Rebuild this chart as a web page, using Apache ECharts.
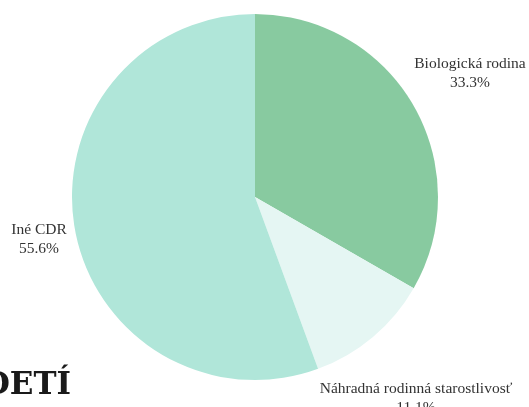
<!DOCTYPE html>
<html><head><meta charset="utf-8">
<script src="https://cdn.jsdelivr.net/npm/echarts@6/dist/echarts.min.js"></script>
<style>html,body{margin:0;padding:0;background:#fff}#c{width:529px;height:407px}</style>
</head><body><div id="c"></div>
<script>
const categories = ['Biologická rodina', 'Náhradná rodinná starostlivosť', 'Iné CDR'];
const values = [33.3, 11.1, 55.6];
const colors = ['#88caa0', '#e5f6f3', '#b0e6d9'];
const labelPos = [[470, 73], [416, 398], [39, 239]];

const chart = echarts.init(document.getElementById('c'), null, {renderer: 'canvas'});
chart.setOption({
  animation: false,
  graphic: [{
    type: 'text', x: 71, y: 386,
    style: {text: 'DETÍ', font: 'bold 31px "DejaVu Serif"', fill: '#1a1a1a', align: 'right', verticalAlign: 'middle'}
  }],
  series: [{
    type: 'pie',
    center: [255, 197],
    radius: 183,
    startAngle: 90,
    clockwise: true,
    data: categories.map((n, i) => ({name: n, value: values[i], itemStyle: {color: colors[i]}})),
    label: {
      show: true,
      position: 'outside',
      formatter: p => p.name + '\n' + p.value.toFixed(1) + '%',
      fontFamily: '"Liberation Serif"',
      fontSize: 15.5,
      lineHeight: 19,
      color: '#333',
      align: 'center',
      overflow: 'none'
    },
    labelLine: {show: false},
    labelLayout: p => ({x: labelPos[p.dataIndex][0], y: labelPos[p.dataIndex][1], align: 'center', verticalAlign: 'middle'})
  }]
});
</script></body></html>
